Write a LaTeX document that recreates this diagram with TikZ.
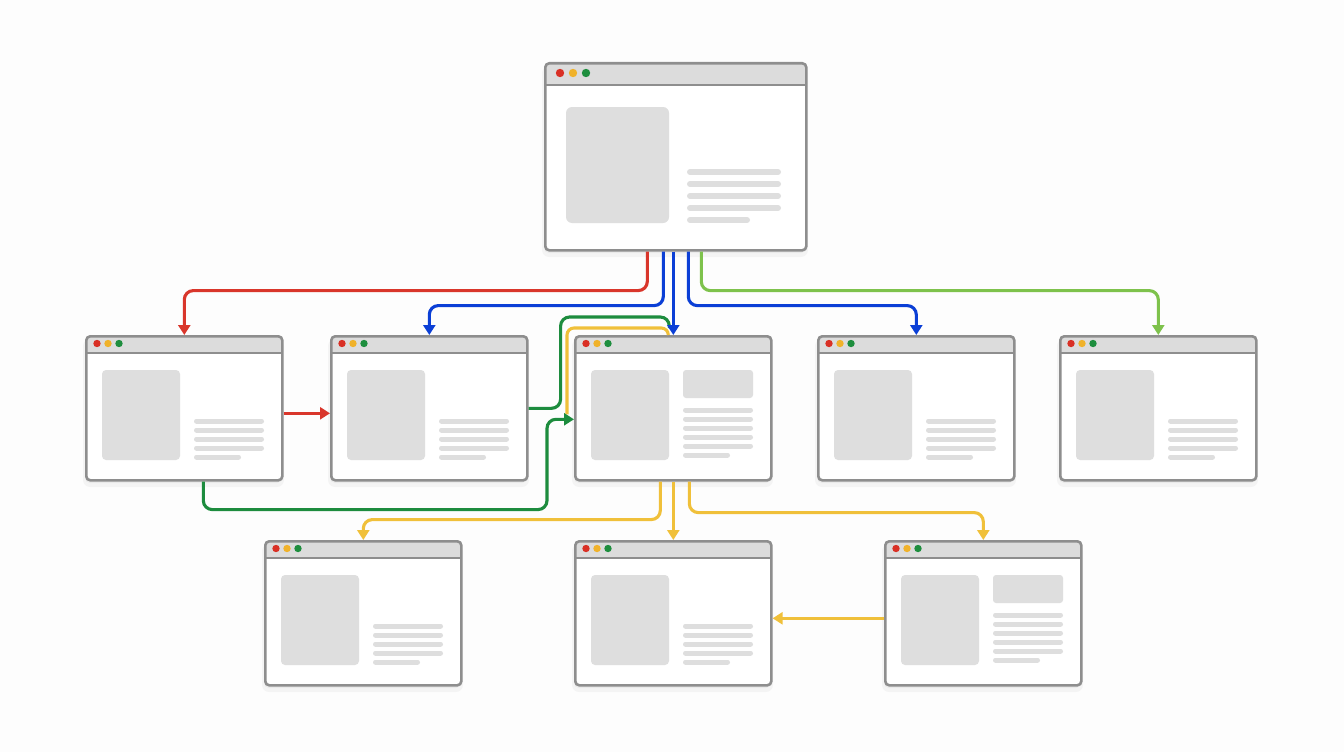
\documentclass[tikz,border=0pt]{standalone}
\usetikzlibrary{arrows.meta,calc}
\definecolor{bordercol}{HTML}{8E8E8E}
\definecolor{barcol}{HTML}{DCDCDC}
\definecolor{phcol}{HTML}{DEDEDE}
\definecolor{dotred}{HTML}{D93025}
\definecolor{dotyel}{HTML}{F0B22A}
\definecolor{dotgrn}{HTML}{1E8E3E}
\definecolor{cred}{HTML}{D9362B}
\definecolor{cblue}{HTML}{0B3FD6}
\definecolor{cdgreen}{HTML}{1D8C3E}
\definecolor{clgreen}{HTML}{7EC24C}
\definecolor{cyel}{HTML}{F0C03A}
\definecolor{bgcol}{HTML}{FDFDFD}
\tikzset{
  win/.style={fill=white, draw=bordercol, line width=2.6pt, rounded corners=4pt, inner sep=0pt,
    anchor=north west, minimum width=196pt, minimum height=144pt,
    path picture={\fill[barcol, sharp corners] (path picture bounding box.north west) rectangle ([yshift=-#1]path picture bounding box.north east);
      \draw[bordercol, line width=1.8pt, sharp corners] ([yshift=-#1]path picture bounding box.north west) -- ([yshift=-#1]path picture bounding box.north east);}},
  win/.default=17pt,
  phline/.style={phcol, line width=5pt, line cap=round},
  conn/.style={line width=3.1pt, rounded corners=9pt, -{Triangle[length=10pt,width=12pt]}},
  connplain/.style={line width=3.1pt, rounded corners=9pt},
}
\newcommand{\shadowbox}[4]{%
  \fill[black, opacity=0.035, rounded corners=7pt] (#1-2,#2+4) rectangle (#3+3,#4+8);
  \fill[black, opacity=0.04, rounded corners=5pt] (#1,#2+2) rectangle (#3+1,#4+4);}
\newcommand{\browserwin}[4]{% name, x, y, kind
  \shadowbox{#2}{#3}{#2+196}{#3+144}
  \node[win] (#1) at (#2,#3) {};
  \fill[dotred] (#2+12,#3+8.5) circle (3.7);
  \fill[dotyel] (#2+23,#3+8.5) circle (3.7);
  \fill[dotgrn] (#2+34,#3+8.5) circle (3.7);
  \fill[phcol, rounded corners=4pt] (#2+17,#3+35) rectangle (#2+95,#3+125);
  \ifnum#4=0
    \foreach \yy in {86,95,104,113} {\draw[phline] (#2+111.5,#3+\yy) -- (#2+176.5,#3+\yy);}
    \draw[phline] (#2+111.5,#3+122) -- (#2+153.5,#3+122);
  \else
    \fill[phcol, rounded corners=3pt] (#2+109,#3+35) rectangle (#2+179,#3+63);
    \foreach \yy in {75,84,93,102,111} {\draw[phline] (#2+111.5,#3+\yy) -- (#2+176.5,#3+\yy);}
    \draw[phline] (#2+111.5,#3+120) -- (#2+153.5,#3+120);
  \fi}
\begin{document}
\begin{tikzpicture}[x=1pt,y=-1pt]
\fill[bgcol] (0,0) rectangle (1344,752);
\useasboundingbox (0,0) rectangle (1344,752);

% top window
\shadowbox{544}{62}{805}{249}
\node[win=22pt, minimum width=261pt, minimum height=187pt] (top) at (544,62) {};
\fill[dotred] (560,73) circle (4.2);
\fill[dotyel] (573,73) circle (4.2);
\fill[dotgrn] (586,73) circle (4.2);
\fill[phcol, rounded corners=6pt] (566,107) rectangle (669,223);
\foreach \yy in {172,184,196,208} {\draw[phcol, line width=6pt, line cap=round] (690,\yy) -- (778,\yy);}
\draw[phcol, line width=6pt, line cap=round] (690,220) -- (747,220);

% row 2
\browserwin{w1}{85}{335}{0}
\browserwin{w2}{330}{335}{0}
\browserwin{w3}{574}{335}{1}
\browserwin{w4}{817}{335}{0}
\browserwin{w5}{1059}{335}{0}
% row 3
\browserwin{w6}{264}{540}{0}
\browserwin{w7}{574}{540}{0}
\browserwin{w8}{884}{540}{1}

% connectors from top
\draw[conn, cred] ([xshift=-28.5pt]top.south) -- ++(0,39) -| (w1.north);
\draw[conn, cblue] ([xshift=-12.5pt]top.south) -- ++(0,54) -| (w2.north);
\draw[conn, cblue] ([xshift=12.5pt]top.south) -- ++(0,54) -| (w4.north);
\draw[conn, clgreen] ([xshift=25.5pt]top.south) -- ++(0,39) -| (w5.north);

% yellow loop over w3
\draw[connplain, rounded corners=7pt, cyel] ([xshift=-5pt]w3.north) -- ++(0,-7) -| ([xshift=-7pt,yshift=-6pt]w3.west);
% green from w2 to w3 top
\draw[connplain, rounded corners=9pt, cdgreen] (w2.east) -- ++(32,0) |- ([xshift=-4pt,yshift=18pt]w3.north) -- ([xshift=-4pt,yshift=7pt]w3.north);
% green from w1 to w3 left
\draw[conn, cdgreen] ([xshift=19pt]w1.south) -- ++(0,28) -| ([xshift=-27pt,yshift=-11pt]w3.west) -- ([yshift=-11pt]w3.west);
% blue straight down
\draw[conn, cblue] (w3.north |- top.south) -- (w3.north);
% red w1 -> w2
\draw[conn, cred] ([yshift=-5pt]w1.east) -- ([yshift=-5pt]w2.west);

% yellow from w3 down
\draw[conn, cyel] ([xshift=-13pt]w3.south) -- ++(0,38) -| (w6.north);
\draw[conn, cyel] (w3.south) -- (w7.north);
\draw[conn, cyel] ([xshift=16pt]w3.south) -- ++(0,31) -| (w8.north);
\draw[conn, cyel] ([yshift=-5pt]w8.west) -- ([yshift=-5pt]w7.east);
\end{tikzpicture}
\end{document}
